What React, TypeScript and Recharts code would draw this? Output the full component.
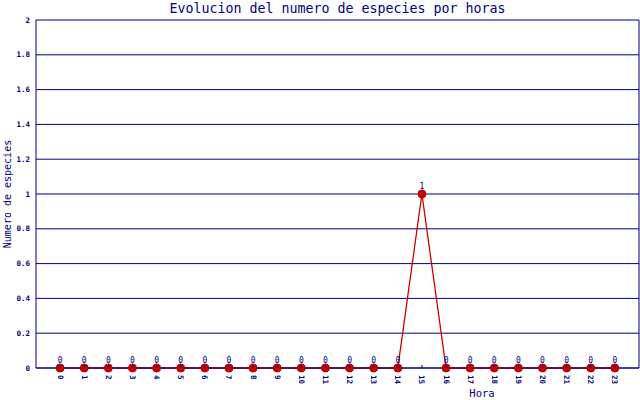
import { LineChart, Line, XAxis, YAxis, CartesianGrid, LabelList, ReferenceLine } from 'recharts';

const hours = [0, 1, 2, 3, 4, 5, 6, 7, 8, 9, 10, 11, 12, 13, 14, 15, 16, 17, 18, 19, 20, 21, 22, 23];
const species = [0, 0, 0, 0, 0, 0, 0, 0, 0, 0, 0, 0, 0, 0, 0, 1, 0, 0, 0, 0, 0, 0, 0, 0];
const yTicks = [0, 0.2, 0.4, 0.6, 0.8, 1, 1.2, 1.4, 1.6, 1.8, 2];

const data = hours.map((h, i) => ({ hora: h, value: species[i] }));

const NAVY = '#000080';
const RED = '#cc0000';
const FONT = '"DejaVu Sans Mono", "Liberation Mono", monospace';

function HourTick(props: any) {
  const { x, y, payload } = props;
  return (
    <g>
      <line x1={x} x2={x} y1={368} y2={365} stroke={NAVY} />
      <text
        x={x}
        y={y}
        transform={`rotate(90, ${x}, ${y})`}
        dx={-1}
        dy={2.5}
        fontSize={7.5}
        fontWeight="bold"
        fontFamily={FONT}
        fill={NAVY}
        textAnchor="start"
      >
        {payload.value}
      </text>
    </g>
  );
}

export default function App() {
  return (
    <div style={{ position: 'absolute', left: 0, top: 0, width: 640, height: 400, background: '#fff', fontFamily: FONT }}>
      <div style={{ position: 'absolute', left: 36, width: 603, top: 0, textAlign: 'center', fontSize: 13.3, color: NAVY, lineHeight: '18px' }}>
        Evolucion del numero de especies por horas
      </div>
      <div style={{ position: 'absolute', left: 482, top: 387, transform: 'translateX(-50%)', fontSize: 10.5, color: NAVY, lineHeight: '13px' }}>
        Hora
      </div>
      <div
        style={{
          position: 'absolute',
          left: 8,
          top: 194,
          transform: 'translate(-50%, -50%) rotate(-90deg)',
          whiteSpace: 'nowrap',
          fontSize: 10,
          color: NAVY,
          lineHeight: '12px',
        }}
      >
        Numero de especies
      </div>
      <LineChart width={640} height={400} data={data} margin={{ top: 20, right: 1, bottom: 0, left: 0 }}>
        <CartesianGrid horizontal vertical={false} stroke={NAVY} strokeWidth={1} />
        <XAxis
          dataKey="hora"
          type="number"
          domain={[-1, 24]}
          ticks={hours}
          interval={0}
          height={32}
          stroke={NAVY}
          tickLine={false}
          tick={<HourTick />}
        />
        <YAxis
          domain={[0, 2]}
          ticks={yTicks}
          width={36}
          stroke={NAVY}
          tickLine={false}
          tick={{ fontSize: 7.5, fontWeight: 'bold', fontFamily: FONT, fill: NAVY }}
          tickMargin={0}
        />
        <ReferenceLine x={24} stroke={NAVY} ifOverflow="visible" />
        <Line
          dataKey="value"
          stroke={RED}
          strokeWidth={1.3}
          isAnimationActive={false}
          dot={{ r: 4, fill: RED, stroke: '#b00000', strokeWidth: 1 }}
        >
          <LabelList dataKey="value" position="top" offset={5} fontSize={8} fontFamily={FONT} fill={NAVY} />
        </Line>
      </LineChart>
    </div>
  );
}
